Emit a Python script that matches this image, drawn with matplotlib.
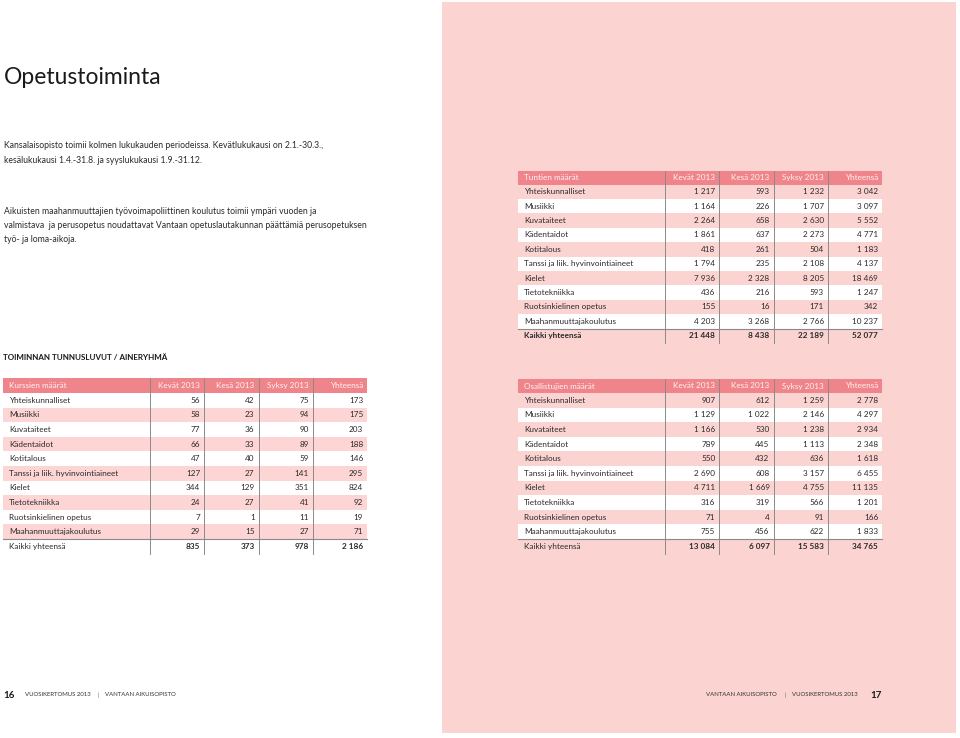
import matplotlib
matplotlib.use('Agg')
import matplotlib.pyplot as plt
from matplotlib.patches import Rectangle

plt.rcParams['font.family'] = ['Lato', 'DejaVu Sans']

# --- data ---
aineryhmat = ['Yhteiskunnalliset', 'Musiikki', 'Kuvataiteet', 'Kädentaidot', 'Kotitalous',
              'Tanssi ja liik. hyvinvointiaineet', 'Kielet', 'Tietotekniikka',
              'Ruotsinkielinen opetus', 'Maahanmuuttajakoulutus']
kaudet = ['Kevät 2013', 'Kesä 2013', 'Syksy 2013', 'Yhteensä']

kurssit_kevat = [56, 58, 77, 66, 47, 127, 344, 24, 7, 29]
kurssit_kesa = [42, 23, 36, 33, 40, 27, 129, 27, 1, 15]
kurssit_syksy = [75, 94, 90, 89, 59, 141, 351, 41, 11, 27]
kurssit_yht = [173, 175, 203, 188, 146, 295, 824, 92, 19, 71]
kurssit_kaikki = [835, 373, 978, 2186]

tunnit_kevat = [1217, 1164, 2264, 1861, 418, 1794, 7936, 436, 155, 4203]
tunnit_kesa = [593, 226, 658, 637, 261, 235, 2328, 216, 16, 3268]
tunnit_syksy = [1232, 1707, 2630, 2273, 504, 2108, 8205, 593, 171, 2766]
tunnit_yht = [3042, 3097, 5552, 4771, 1183, 4137, 18469, 1247, 342, 10237]
tunnit_kaikki = [21448, 8438, 22189, 52077]

osall_kevat = [907, 1129, 1166, 789, 550, 2690, 4711, 316, 71, 755]
osall_kesa = [612, 1022, 530, 445, 432, 608, 1669, 319, 4, 456]
osall_syksy = [1259, 2146, 1238, 1113, 636, 3157, 4755, 566, 91, 622]
osall_yht = [2778, 4297, 2934, 2348, 1618, 6455, 11135, 1201, 166, 1833]
osall_kaikki = [13084, 6097, 15583, 34765]

HEAD = '#ef858b'
PINK_ROW = '#fdd5d4'
PANEL = '#fbd3d1'
TXT = '#2a2a2a'
FS = 5.9


def fmt(v):
    return '{:,}'.format(v).replace(',', ' ')


def draw_table(ax, x0, y0, title, cols, total, first_pink, row_pink, bold_total_label,
               head_h=15, row_h=14.6, label_w=147, col_w=54.3):
    width = label_w + col_w * 4
    ax.add_patch(Rectangle((x0, y0), width, head_h, color=HEAD, lw=0))
    ax.text(x0 + 6, y0 + head_h / 2, title, color='#fff3f3', fontsize=FS,
            va='center', ha='left')
    for j, k in enumerate(kaudet):
        xr = x0 + label_w + col_w * (j + 1) - 4
        ax.text(xr, y0 + head_h / 2, k, color='#fff3f3', fontsize=FS, va='center', ha='right')
    rows = aineryhmat + ['Kaikki yhteensä']
    for i, name in enumerate(rows):
        top = y0 + head_h + i * row_h
        pink = (i % 2 == 0) == first_pink
        ax.add_patch(Rectangle((x0, top), width, row_h,
                               color=row_pink if pink else 'white', lw=0))
        cy = top + row_h / 2
        last = i == len(rows) - 1
        ax.text(x0 + 6, cy, name, color=TXT, fontsize=FS, va='center', ha='left',
                fontweight='bold' if (last and bold_total_label) else 'normal')
        vals = total if last else [c[i] for c in cols]
        for j, v in enumerate(vals):
            xr = x0 + label_w + col_w * (j + 1) - 4
            ax.text(xr, cy, fmt(v), color=TXT, fontsize=FS, va='center', ha='right',
                    fontweight='bold' if last else 'normal')
    bottom = y0 + head_h + len(rows) * row_h
    line_y = y0 + head_h + (len(rows) - 1) * row_h
    ax.plot([x0, x0 + width], [line_y, line_y], color='#8a8a8a', lw=0.8)
    for j in range(4):
        xl = x0 + label_w + col_w * j
        ax.plot([xl, xl], [y0, bottom], color='#8a8a8a', lw=0.7)


fig = plt.figure(figsize=(9.6, 7.38), dpi=100)
ax = fig.add_axes([0, 0, 1, 1])
ax.set_xlim(0, 960)
ax.set_ylim(738, 0)
ax.axis('off')

# pink right page
ax.add_patch(Rectangle((442, 2), 514, 731, color=PANEL, lw=0))

ax.text(4, 77, 'Opetustoiminta', fontsize=16.5, color='#1a1a1a', va='center', ha='left')

para = ['Kansalaisopisto toimii kolmen lukukauden periodeissa. Kevätlukukausi on 2.1.-30.3.,',
        'kesälukukausi 1.4.-31.8. ja syyslukukausi 1.9.-31.12.']
para2 = ['Aikuisten maahanmuuttajien työvoimapoliittinen koulutus toimii ympäri vuoden ja',
         'valmistava  ja perusopetus noudattavat Vantaan opetuslautakunnan päättämiä perusopetuksen',
         'työ- ja loma-aikoja.']
for i, s in enumerate(para):
    ax.text(4, 146 + i * 14.5, s, fontsize=6.2, color=TXT, va='center', ha='left')
for i, s in enumerate(para2):
    ax.text(4, 211 + i * 14.5, s, fontsize=6.2, color=TXT, va='center', ha='left')

ax.text(3, 358, 'TOIMINNAN TUNNUSLUVUT / AINERYHMÄ', fontsize=5.8, fontweight='bold',
        color='#1a1a1a', va='center', ha='left')

draw_table(ax, 3, 378, 'Kurssien määrät',
           [kurssit_kevat, kurssit_kesa, kurssit_syksy, kurssit_yht], kurssit_kaikki,
           first_pink=False, row_pink=PINK_ROW, bold_total_label=False)
draw_table(ax, 518, 170.5, 'Tuntien määrät',
           [tunnit_kevat, tunnit_kesa, tunnit_syksy, tunnit_yht], tunnit_kaikki,
           first_pink=True, row_pink=PANEL, bold_total_label=True,
           head_h=14, row_h=14.4)
draw_table(ax, 518, 379, 'Osallistujien määrät',
           [osall_kevat, osall_kesa, osall_syksy, osall_yht], osall_kaikki,
           first_pink=True, row_pink=PANEL, bold_total_label=False,
           head_h=14, row_h=14.6)

# footers
FT = 4.3
ax.text(3, 695, '16', fontsize=7, fontweight='bold', color='#1a1a1a', va='center', ha='left')
ax.text(25, 695, 'VUOSIKERTOMUS 2013', fontsize=FT, color='#333333', va='center', ha='left')
ax.text(98, 695, '|', fontsize=FT, color='#555555', va='center', ha='center')
ax.text(105, 695, 'VANTAAN AIKUISOPISTO', fontsize=FT, color='#333333', va='center', ha='left')
ax.text(706, 695, 'VANTAAN AIKUISOPISTO', fontsize=FT, color='#333333', va='center', ha='left')
ax.text(785, 695, '|', fontsize=FT, color='#555555', va='center', ha='center')
ax.text(792, 695, 'VUOSIKERTOMUS 2013', fontsize=FT, color='#333333', va='center', ha='left')
ax.text(870, 695, '17', fontsize=7, fontweight='bold', color='#1a1a1a', va='center', ha='left')

fig.savefig('out.png', dpi=100)
